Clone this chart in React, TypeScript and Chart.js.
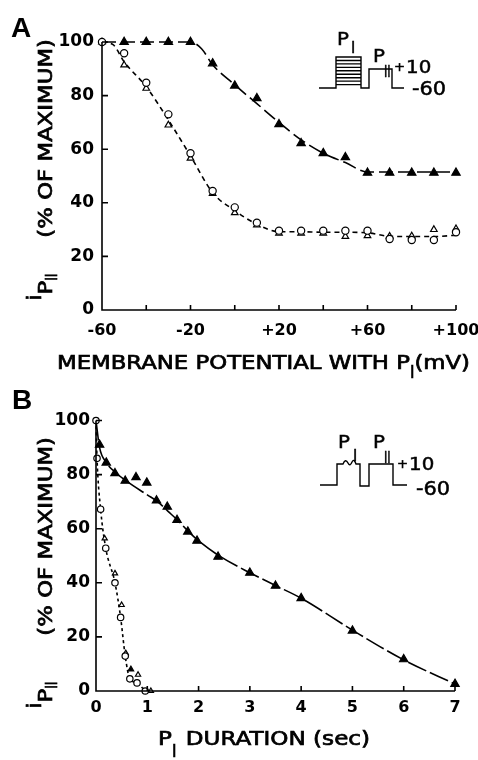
import React, { useEffect, useRef } from 'react';
import { Chart, registerables } from 'chart.js';
Chart.register(...registerables);

const FONT = '"DejaVu Sans", sans-serif';

// ---------- Panel A: membrane potential (mV) vs i_PII (% of max) ----------
const potentialLabelValues = [-60, -20, 20, 60, 100];
const potentialLabelTexts = ['-60', '-20', '+20', '+60', '+100'];

const filledTriA_x = [-50, -40, -30, -20, -10, 0, 10, 20, 30, 40, 50, 60, 70, 80, 90, 100];
const filledTriA_y = [100, 100, 100, 100, 92, 83.7, 79, 69.3, 62.2, 58.5, 57, 51.2, 51.2, 51.2, 51.2, 51.2];

const openCircA_x = [-60, -50, -40, -30, -20, -10, 0, 10, 20, 30, 40, 50, 60, 70, 80, 90, 100];
const openCircA_y = [100, 95.8, 84.8, 73, 58.5, 44.4, 38.3, 32.6, 29.6, 29.6, 29.6, 29.6, 29.6, 26.5, 26.1, 26.1, 29];

const openTriA_x = [-60, -50, -40, -30, -20, -10, 0, 10, 20, 30, 40, 50, 60, 70, 80, 90, 100];
const openTriA_y = [100, 91.4, 82.7, 69, 56.6, 43.5, 36.3, 31.7, 28.6, 28.6, 28.6, 27.4, 27.7, 27.5, 27.6, 30, 30.3];

const fitFilledA_x = [-60, -50, -40, -30, -20, -15, -10, 0, 10, 20, 30, 40, 50, 60, 70, 80, 90, 100];
const fitFilledA_y = [100, 100, 100, 100, 100, 97.5, 91.5, 84, 77, 70, 63.5, 58.5, 55, 51.5, 51.5, 51.5, 51.5, 51.5];

const fitOpenA_x = [-60, -55, -50, -40, -30, -20, -10, 0, 10, 20, 30, 40, 50, 60, 70, 80, 90, 100];
const fitOpenA_y = [100, 99, 92.6, 83.3, 70.9, 57.5, 43.8, 37.1, 32, 29.2, 29.2, 29, 29, 28.8, 27.5, 27.4, 27.4, 27.9];

// ---------- Panel B: P_I duration (sec) vs i_PII (% of max) ----------
const filledTriB_x = [0.07, 0.2, 0.37, 0.57, 0.78, 0.99, 1.18, 1.39, 1.58, 1.79, 1.97, 2.38, 3.0, 3.5, 4.0, 5.0, 6.0, 7.0];
const filledTriB_y = [91, 84.4, 80.5, 77.7, 79, 77, 70.4, 68.1, 63.2, 58.9, 55.5, 49.6, 43.7, 38.9, 34.3, 22.3, 11.7, 2.6];

const smallFilledB_x = [0.68];
const smallFilledB_y = [8];

const openCircB_x = [0, 0.02, 0.09, 0.19, 0.37, 0.48, 0.57, 0.66, 0.8, 0.96];
const openCircB_y = [100, 86, 67.2, 52.8, 40, 27.2, 12.9, 4.5, 3, 0];

const openTriB_x = [0.17, 0.37, 0.5, 0.58, 0.82, 1.07];
const openTriB_y = [56.4, 43.5, 31.8, 14, 6, 0];

const fitFilledB_x = [0, 0.07, 0.2, 0.4, 0.6, 1.0, 1.2, 1.4, 1.6, 1.8, 2.0, 2.4, 3.0, 3.5, 4.0, 5.0, 6.0, 7.0];
const fitFilledB_y = [100, 90, 84.5, 80.5, 77.5, 72.5, 70, 66.5, 63, 59, 55.5, 50, 43.7, 39, 34.3, 22.5, 11.5, 2.6];

const pts = (xs: number[], ys: number[]) => xs.map((x, i) => ({ x, y: ys[i] }));

type Seg = { t: string; size: number; dy?: number; sx?: number; gap?: number; weight?: string };

function drawRich(
  ctx: CanvasRenderingContext2D,
  segs: Seg[],
  x: number,
  y: number,
  o: { sx?: number; fit?: number; rotate?: boolean; anchorEnd?: boolean; stroke?: number } = {}
) {
  ctx.save();
  ctx.fillStyle = '#000';
  ctx.strokeStyle = '#000';
  ctx.textBaseline = 'alphabetic';
  ctx.textAlign = 'left';
  const widths = segs.map((s) => {
    ctx.font = `${s.weight || 'normal'} ${s.size}px ${FONT}`;
    return ctx.measureText(s.t).width;
  });
  let base = o.sx ?? 1;
  if (o.fit) {
    let fixed = 0, scal = 0;
    segs.forEach((s, i) => {
      fixed += s.gap || 0;
      if (s.sx !== undefined) fixed += widths[i] * s.sx;
      else scal += widths[i];
    });
    base = (o.fit - fixed) / scal;
  }
  let total = 0;
  segs.forEach((s, i) => (total += widths[i] * (s.sx ?? base) + (s.gap || 0)));
  ctx.translate(x, y);
  if (o.rotate) ctx.rotate(-Math.PI / 2);
  let cx = o.anchorEnd ? -total : 0;
  segs.forEach((s, i) => {
    const sx = s.sx ?? base;
    ctx.font = `${s.weight || 'normal'} ${s.size}px ${FONT}`;
    ctx.save();
    ctx.translate(cx, s.dy || 0);
    ctx.scale(sx, 1);
    ctx.fillText(s.t, 0, 0);
    if (o.stroke) {
      ctx.lineWidth = o.stroke;
      ctx.strokeText(s.t, 0, 0);
    }
    ctx.restore();
    cx += widths[i] * sx + (s.gap || 0);
  });
  ctx.restore();
}

const axesPlugin = {
  id: 'axesDraw',
  afterDatasetsDraw(chart: any) {
    const { ctx, chartArea, scales } = chart;
    const { left, right, top, bottom } = chartArea;
    ctx.save();
    ctx.strokeStyle = '#000';
    ctx.lineWidth = 1.6;
    ctx.setLineDash([]);
    ctx.beginPath();
    ctx.moveTo(left, top);
    ctx.lineTo(left, bottom);
    ctx.lineTo(right, bottom);
    scales.x.ticks.forEach((t: any) => {
      const px = scales.x.getPixelForValue(t.value);
      ctx.moveTo(px, bottom);
      ctx.lineTo(px, bottom - 5);
    });
    scales.y.ticks.forEach((t: any) => {
      const py = scales.y.getPixelForValue(t.value);
      ctx.moveTo(left, py);
      ctx.lineTo(left + 6, py);
    });
    ctx.stroke();
    ctx.restore();
  },
};

const yLabelSegs = (gap: number): Seg[] => [
  { t: 'i', size: 19, dy: -11 },
  { t: 'P', size: 19 },
  { t: 'II', size: 15, dy: 5, sx: 0.8, gap },
  { t: '(% OF MAXIMUM)', size: 19 },
];

function drawInsetA(ctx: CanvasRenderingContext2D, oy: number) {
  ctx.save();
  ctx.strokeStyle = '#000';
  ctx.lineWidth = 1.4;
  ctx.setLineDash([]);
  ctx.beginPath();
  ctx.moveTo(319, 88 + oy);
  ctx.lineTo(336, 88 + oy);
  ctx.lineTo(336, 57 + oy);
  ctx.lineTo(361, 57 + oy);
  ctx.lineTo(361, 88 + oy);
  ctx.lineTo(369, 88 + oy);
  ctx.lineTo(369, 69 + oy);
  ctx.lineTo(392, 69 + oy);
  ctx.lineTo(392, 88 + oy);
  ctx.lineTo(404, 88 + oy);
  for (let k = 1; k <= 8; k++) {
    const yy = 57 + oy + k * 3.45;
    ctx.moveTo(336, yy);
    ctx.lineTo(361, yy);
  }
  ctx.stroke();
  ctx.restore();
  const st = { sx: 1.1, stroke: 0.5 };
  drawRich(ctx, [{ t: 'P', size: 18 }], 337, 45 + oy, st);
  drawRich(ctx, [{ t: 'I', size: 16 }], 351, 53 + oy, { sx: 0.9, stroke: 0.5 });
  drawRich(ctx, [{ t: 'P', size: 18 }], 373, 62 + oy, st);
  drawRich(ctx, [{ t: 'II', size: 15 }], 384, 77 + oy, { sx: 0.75, stroke: 0.5 });
  drawRich(ctx, [{ t: '+', size: 12, dy: -2, gap: 1 }, { t: '10', size: 18 }], 394, 73 + oy, st);
  drawRich(ctx, [{ t: '-60', size: 19 }], 412, 95 + oy, st);
}

function drawInsetB(ctx: CanvasRenderingContext2D, oy: number) {
  ctx.save();
  ctx.strokeStyle = '#000';
  ctx.lineWidth = 1.4;
  ctx.setLineDash([]);
  ctx.beginPath();
  ctx.moveTo(320, 485 + oy);
  ctx.lineTo(337, 485 + oy);
  ctx.lineTo(337, 464 + oy);
  ctx.lineTo(343, 464 + oy);
  ctx.quadraticCurveTo(345.5, 458 + oy, 348, 463 + oy);
  ctx.quadraticCurveTo(350, 467 + oy, 352, 462 + oy);
  ctx.quadraticCurveTo(354, 458 + oy, 356, 464 + oy);
  ctx.lineTo(360, 464 + oy);
  ctx.lineTo(360, 486 + oy);
  ctx.lineTo(369, 486 + oy);
  ctx.lineTo(369, 464 + oy);
  ctx.lineTo(393, 464 + oy);
  ctx.lineTo(393, 485 + oy);
  ctx.lineTo(407, 485 + oy);
  ctx.stroke();
  ctx.restore();
  const st = { sx: 1.1, stroke: 0.5 };
  drawRich(ctx, [{ t: 'P', size: 18 }], 338, 448 + oy, st);
  drawRich(ctx, [{ t: 'I', size: 16 }], 353, 461 + oy, { sx: 0.9, stroke: 0.5 });
  drawRich(ctx, [{ t: 'P', size: 18 }], 373, 448 + oy, st);
  drawRich(ctx, [{ t: 'II', size: 15 }], 384, 463 + oy, { sx: 0.75, stroke: 0.5 });
  drawRich(ctx, [{ t: '+', size: 12, dy: -2, gap: 1 }, { t: '10', size: 18 }], 397, 470 + oy, st);
  drawRich(ctx, [{ t: '-60', size: 19 }], 416, 495 + oy, st);
}

const tickFontY = { family: FONT, size: 17, weight: 'bold' as const };
const tickFontX = { family: FONT, size: 16, weight: 'bold' as const };

function pointSet(data: any[], style: string, r: number, filled: boolean, bw = 1.2) {
  return {
    data,
    showLine: false,
    pointStyle: style,
    pointRadius: r,
    pointHoverRadius: r,
    backgroundColor: filled ? '#000' : '#fff',
    borderColor: '#000',
    pointBorderWidth: bw,
    borderWidth: bw,
    clip: false as any,
  };
}

function lineSet(data: any[], dash: number[], width = 1.6) {
  return {
    data,
    showLine: true,
    borderColor: '#000',
    borderWidth: width,
    borderDash: dash,
    pointRadius: 0,
    pointHoverRadius: 0,
    cubicInterpolationMode: 'monotone' as const,
    clip: false as any,
  };
}

function baseOptions(p: {
  xmin: number; xmax: number; xstep: number; xcb?: (v: number) => string;
  padTop: number; padRight: number; yWidth: number; xHeight: number; xPad: number; yPad: number;
}) {
  return {
    animation: false as const,
    responsive: false,
    maintainAspectRatio: false,
    events: [] as any[],
    layout: { padding: { left: 0, right: p.padRight, top: p.padTop, bottom: 0 } },
    plugins: { legend: { display: false }, tooltip: { enabled: false }, title: { display: false } },
    scales: {
      x: {
        type: 'linear' as const,
        min: p.xmin,
        max: p.xmax,
        grid: { display: false, drawTicks: false },
        border: { display: false },
        ticks: {
          stepSize: p.xstep,
          autoSkip: false,
          maxRotation: 0,
          padding: p.xPad,
          color: '#000',
          font: tickFontX,
          callback: p.xcb ? (v: any) => p.xcb!(Number(v)) : (v: any) => String(v),
        },
        afterFit: (s: any) => {
          s.height = p.xHeight;
          s.paddingLeft = 0;
          s.paddingRight = 0;
        },
      },
      y: {
        type: 'linear' as const,
        min: 0,
        max: 100,
        grid: { display: false, drawTicks: false },
        border: { display: false },
        ticks: { stepSize: 20, padding: p.yPad, color: '#000', font: tickFontY },
        afterFit: (s: any) => {
          s.width = p.yWidth;
          s.paddingTop = 0;
          s.paddingBottom = 0;
        },
      },
    },
  };
}

export default function App() {
  const refA = useRef<HTMLCanvasElement>(null);
  const refB = useRef<HTMLCanvasElement>(null);

  useEffect(() => {
    const decorA = {
      id: 'decorA',
      afterDraw(chart: any) {
        const ctx = chart.ctx as CanvasRenderingContext2D;
        drawInsetA(ctx, 0);
        ctx.save();
        ctx.fillStyle = '#000';
        ctx.font = `bold 28px "Liberation Sans", Arial, sans-serif`;
        ctx.fillText('A', 11, 37);
        ctx.restore();
        drawRich(
          ctx,
          [
            { t: 'MEMBRANE POTENTIAL WITH P', size: 19 },
            { t: 'I', size: 17, dy: 9, sx: 0.9 },
            { t: '(mV)', size: 19 },
          ],
          57,
          369,
          { fit: 413, stroke: 0.7 }
        );
        drawRich(ctx, yLabelSegs(36), 52, 39, { sx: 1.2, rotate: true, anchorEnd: true, stroke: 0.7 });
      },
    };
    const decorB = {
      id: 'decorB',
      afterDraw(chart: any) {
        const ctx = chart.ctx as CanvasRenderingContext2D;
        drawInsetB(ctx, -380);
        ctx.save();
        ctx.fillStyle = '#000';
        ctx.font = `bold 28px "Liberation Sans", Arial, sans-serif`;
        ctx.fillText('B', 12, 409 - 380);
        ctx.restore();
        drawRich(
          ctx,
          [
            { t: 'P', size: 19 },
            { t: 'I', size: 17, dy: 12, sx: 0.9, gap: 2 },
            { t: ' DURATION (sec)', size: 19 },
          ],
          158,
          745 - 380,
          { fit: 212, stroke: 0.7 }
        );
        drawRich(ctx, yLabelSegs(46), 52, 437 - 380, { sx: 1.2, rotate: true, anchorEnd: true, stroke: 0.7 });
      },
    };

    const chartA = new Chart(refA.current!, {
      type: 'scatter',
      data: {
        datasets: [
          pointSet(pts(openCircA_x, openCircA_y), 'circle', 3.6, false),
          pointSet(pts(openTriA_x, openTriA_y), 'triangle', 3.8, false),
          pointSet(pts(filledTriA_x, filledTriA_y), 'triangle', 4.8, true),
          lineSet(pts(fitOpenA_x, fitOpenA_y), [5, 4]),
          lineSet(pts(fitFilledA_x, fitFilledA_y), [14, 5]),
        ] as any,
      },
      options: baseOptions({
        xmin: -60, xmax: 100, xstep: 20,
        xcb: (v) => {
          const i = potentialLabelValues.indexOf(v);
          return i >= 0 ? potentialLabelTexts[i] : '';
        },
        padTop: 42, padRight: 22, yWidth: 102, xHeight: 70, xPad: 11, yPad: 8,
      }) as any,
      plugins: [axesPlugin, decorA],
    });

    const chartB = new Chart(refB.current!, {
      type: 'scatter',
      data: {
        datasets: [
          pointSet(pts(openCircB_x, openCircB_y), 'circle', 3.2, false),
          pointSet(pts(openTriB_x, openTriB_y), 'triangle', 3, false),
          pointSet(pts(smallFilledB_x, smallFilledB_y), 'triangle', 3.2, true),
          pointSet(pts(filledTriB_x, filledTriB_y), 'triangle', 4.8, true),
          lineSet(pts(openCircB_x, openCircB_y), [3, 3]),
          lineSet(pts(fitFilledB_x, fitFilledB_y), [20, 4]),
        ] as any,
      },
      options: baseOptions({
        xmin: 0, xmax: 7, xstep: 1,
        padTop: 40.5, padRight: 23, yWidth: 96, xHeight: 69, xPad: 7, yPad: 6,
      }) as any,
      plugins: [axesPlugin, decorB],
    });

    return () => {
      chartA.destroy();
      chartB.destroy();
    };
  }, []);

  return (
    <div style={{ position: 'absolute', left: 0, top: 0, width: 478, height: 760, background: '#fff' }}>
      <canvas ref={refA} width={478} height={380} style={{ position: 'absolute', left: 0, top: 0, display: 'block' }} />
      <canvas ref={refB} width={478} height={380} style={{ position: 'absolute', left: 0, top: 380, display: 'block' }} />
    </div>
  );
}
